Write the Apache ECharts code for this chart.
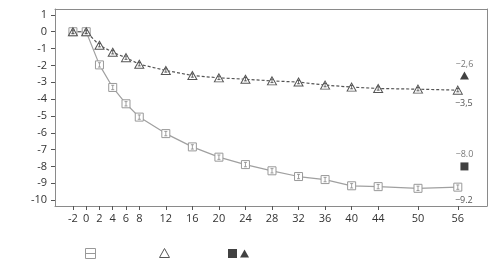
<!DOCTYPE html>
<html><head><meta charset="utf-8">
<script src="https://cdn.jsdelivr.net/npm/echarts@6/dist/echarts.min.js"></script>
<style>html,body{margin:0;padding:0;background:#fff}#c{width:500px;height:267px}</style>
</head><body><div id="c"></div>
<script>
const weeks = [-2, 0, 2, 4, 6, 8, 12, 16, 20, 24, 28, 32, 36, 40, 44, 50, 56];
const squareVals = [0, 0, -1.97, -3.31, -4.28, -5.07, -6.05, -6.84, -7.45, -7.89, -8.26, -8.6, -8.78, -9.15, -9.2, -9.3, -9.23];
const triangleVals = [0, 0, -0.8, -1.22, -1.54, -1.93, -2.3, -2.6, -2.74, -2.82, -2.92, -2.99, -3.17, -3.29, -3.37, -3.41, -3.47];
const errSquare = 0.13;
const errTriangle = 0.1;
const filledSquare = [57, -8.0];
const filledTriangle = [57, -2.6];
const squareEndLabel = '\u22129.2';
const triangleEndLabel = '\u22123,5';
const filledSquareLabel = '\u22128.0';
const filledTriangleLabel = '\u22122,6';
const xTicks = [-2, 0, 2, 4, 6, 8, 12, 16, 20, 24, 28, 32, 36, 40, 44, 50, 56];
const yTicks = [-10, -9, -8, -7, -6, -5, -4, -3, -2, -1, 0, 1];

const FONT = 'Open Sans';
const sq = weeks.map((w, i) => [w, squareVals[i]]);
const tr = weeks.map((w, i) => [w, triangleVals[i]]);

function errBars(data, err, color) {
  return {
    type: 'custom', silent: true, z: 5,
    data: data,
    renderItem: function (params, api) {
      const x = api.value(0), y = api.value(1);
      const top = api.coord([x, y + err]);
      const bot = api.coord([x, y - err]);
      const hw = 1.5;
      return {
        type: 'group',
        children: [
          { type: 'line', shape: { x1: top[0], y1: top[1], x2: bot[0], y2: bot[1] }, style: { stroke: color, lineWidth: 0.8 } },
          { type: 'line', shape: { x1: top[0] - hw, y1: top[1], x2: top[0] + hw, y2: top[1] }, style: { stroke: color, lineWidth: 0.8 } },
          { type: 'line', shape: { x1: bot[0] - hw, y1: bot[1], x2: bot[0] + hw, y2: bot[1] }, style: { stroke: color, lineWidth: 0.8 } }
        ]
      };
    }
  };
}

const triPath = 'path://M5,0 L10,9 L0,9 Z';
const sqLegendPath = 'path://M0,0 L10,0 L10,10 L0,10 Z M0,5 L10,5';
const chart = echarts.init(document.getElementById('c'), null, { renderer: 'canvas' });
chart.setOption({
  animation: false,
  textStyle: { fontFamily: FONT },
  grid: { left: 55, top: 9, right: 13, bottom: 61 },
  legend: [
    { left: 80, top: 243, itemWidth: 10, itemHeight: 10, formatter: () => '', data: [{ name: 'sq', icon: sqLegendPath, itemStyle: { color: '#fff', borderColor: '#999', borderWidth: 1 } }], selectedMode: false },
    { left: 154, top: 243, itemWidth: 10, itemHeight: 10, formatter: () => '', data: [{ name: 'tr', icon: triPath, itemStyle: { color: '#fff', borderColor: '#555', borderWidth: 1 } }], selectedMode: false },
    { left: 223, top: 244, itemWidth: 9, itemHeight: 9, itemGap: 3, formatter: () => '', data: [{ name: 'fsq', icon: 'rect' }, { name: 'ftr', icon: triPath }], selectedMode: false }
  ],
  xAxis: [{
    type: 'value', min: -4.7, max: 60.4,
    splitLine: { show: false },
    axisLine: { show: true, onZero: false, lineStyle: { color: '#8a8a8a' } },
    axisTick: { show: true, length: 4, customValues: xTicks, lineStyle: { color: '#555' } },
    axisLabel: { customValues: xTicks, color: '#333', fontSize: 11, fontFamily: FONT, margin: 7 }
  }, {
    type: 'value', position: 'top', min: -4.7, max: 60.4,
    splitLine: { show: false }, axisTick: { show: false }, axisLabel: { show: false },
    axisLine: { show: true, onZero: false, lineStyle: { color: '#8a8a8a' } }
  }],
  yAxis: [{
    type: 'value', min: -10.35, max: 1.35,
    splitLine: { show: false },
    axisLine: { show: true, onZero: false, lineStyle: { color: '#8a8a8a' } },
    axisTick: { show: true, length: 4, customValues: yTicks, lineStyle: { color: '#555' } },
    axisLabel: { customValues: yTicks, color: '#333', fontSize: 11, fontFamily: FONT, margin: 8 }
  }, {
    type: 'value', position: 'right', min: -10.35, max: 1.35,
    splitLine: { show: false }, axisTick: { show: false }, axisLabel: { show: false },
    axisLine: { show: true, onZero: false, lineStyle: { color: '#8a8a8a' } }
  }],
  series: [
    {
      name: 'sq', type: 'line', data: sq, symbol: 'rect', symbolSize: 8, z: 3,
      lineStyle: { color: '#a0a0a0', width: 1.2 },
      itemStyle: { color: '#fff', borderColor: '#999', borderWidth: 1 },
      label: {
        show: true, position: 'bottom', distance: 4, offset: [6, 0], color: '#555', fontSize: 9, fontFamily: FONT,
        formatter: p => (p.dataIndex === weeks.length - 1 ? squareEndLabel : '')
      }
    },
    {
      name: 'tr', type: 'line', data: tr, symbol: triPath, symbolSize: [9, 8], z: 3,
      lineStyle: { color: '#555', width: 1.2, type: [3, 2] },
      itemStyle: { color: '#fff', borderColor: '#555', borderWidth: 1 },
      label: {
        show: true, position: 'bottom', distance: 4, offset: [6, 0], color: '#555', fontSize: 9, fontFamily: FONT,
        formatter: p => (p.dataIndex === weeks.length - 1 ? triangleEndLabel : '')
      }
    },
    errBars(sq, errSquare, '#888'),
    errBars(tr, errTriangle, '#444'),
    {
      name: 'fsq', type: 'scatter', data: [filledSquare], symbol: 'rect', symbolSize: 8,
      itemStyle: { color: '#111' },
      label: { show: true, position: 'top', distance: 3, color: '#555', fontSize: 9, fontFamily: FONT, formatter: () => filledSquareLabel }
    },
    {
      name: 'ftr', type: 'scatter', data: [filledTriangle], symbol: triPath, symbolSize: [9, 8],
      itemStyle: { color: '#111' },
      label: { show: true, position: 'top', distance: 3, color: '#555', fontSize: 9, fontFamily: FONT, formatter: () => filledTriangleLabel }
    }
  ]
});
</script>
</body></html>
